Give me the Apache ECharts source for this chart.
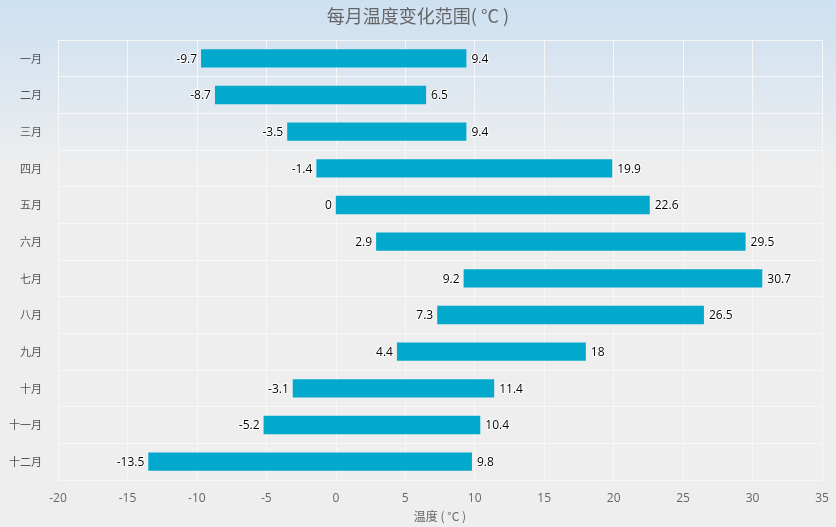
<!DOCTYPE html>
<html>
<head>
<meta charset="utf-8">
<title>每月温度变化范围</title>
<script src="https://cdn.jsdelivr.net/npm/echarts@6/dist/echarts.min.js"></script>
<style>
  html, body { margin: 0; padding: 0; }
  #main { width: 836px; height: 527px; }
</style>
</head>
<body>
<div id="main"></div>
<script>
// 月份与每月最低/最高温度
var months = ['一月', '二月', '三月', '四月', '五月', '六月', '七月', '八月', '九月', '十月', '十一月', '十二月']
var lowTemp = [-9.7, -8.7, -3.5, -1.4, 0, 2.9, 9.2, 7.3, 4.4, -3.1, -5.2, -13.5]
var highTemp = [9.4, 6.5, 9.4, 19.9, 22.6, 29.5, 30.7, 26.5, 18, 11.4, 10.4, 9.8]

var rangeData = months.map(function (m, i) {
  return [i, lowTemp[i], highTemp[i]]
})

var labelStyle = {
  fill: '#000',
  fontSize: 12,
  fontFamily: '"Open Sans", "Noto Sans", sans-serif',
  stroke: '#fff',
  lineWidth: 2,
  verticalAlign: 'middle'
}

// 画出每个月的温度范围条和两端数值
function renderItem(params, api) {
  var idx = api.value(0)
  var start = api.coord([api.value(1), idx])
  var end = api.coord([api.value(2), idx])
  var h = api.size([0, 1])[1] * 0.5
  var rect = echarts.graphic.clipRectByRect({
    x: start[0],
    y: start[1] - h / 2,
    width: end[0] - start[0],
    height: h
  }, params.coordSys)
  return {
    type: 'group',
    children: [
      { type: 'rect', shape: rect, style: { fill: '#02a9cd' } },
      {
        type: 'text',
        x: start[0] - 4,
        y: start[1] + 1,
        style: Object.assign({ text: String(api.value(1)), align: 'right' }, labelStyle)
      },
      {
        type: 'text',
        x: end[0] + 5,
        y: end[1] + 1,
        style: Object.assign({ text: String(api.value(2)), align: 'left' }, labelStyle)
      }
    ]
  }
}

var chart = echarts.init(document.getElementById('main'))
chart.setOption({
  backgroundColor: {
    type: 'linear',
    x: 0, y: 0, x2: 0, y2: 1,
    colorStops: [
      { offset: 0, color: '#cde0f2' },
      { offset: 0.32, color: '#eeeeee' },
      { offset: 1, color: '#eeeeee' }
    ]
  },
  textStyle: { fontFamily: '"Noto Sans CJK SC", "Open Sans", sans-serif' },
  title: {
    text: '每月温度变化范围( °C )',
    left: 'center',
    top: 2,
    textStyle: { color: '#666', fontSize: 18, fontWeight: 'normal' }
  },
  grid: { left: 58, right: 14, top: 40, bottom: 45 },
  xAxis: {
    type: 'value',
    min: -20,
    max: 35,
    interval: 5,
    name: '温度 ( °C )',
    nameLocation: 'middle',
    nameGap: 30,
    nameTextStyle: { color: '#666', fontSize: 12 },
    axisLine: { show: false },
    axisTick: { show: false },
    axisLabel: { color: '#666', fontSize: 12, margin: 13, fontFamily: '"Open Sans", sans-serif' },
    splitLine: { lineStyle: { color: '#f7f7f7', width: 1 } }
  },
  yAxis: {
    type: 'category',
    data: months,
    inverse: true,
    axisLine: { show: false },
    axisTick: { show: true, length: 10, lineStyle: { color: '#f7f7f7' } },
    axisLabel: { color: '#555', fontSize: 11, margin: 16 },
    splitLine: { show: true, lineStyle: { color: '#f7f7f7', width: 1 } }
  },
  series: [{
    type: 'custom',
    renderItem: renderItem,
    encode: { x: [1, 2], y: 0 },
    data: rangeData
  }]
})
</script>
</body>
</html>
